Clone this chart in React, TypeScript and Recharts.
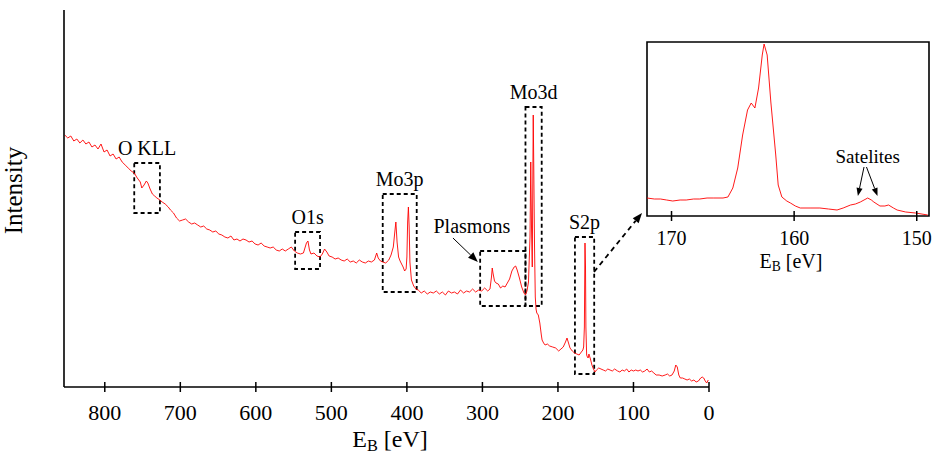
import {
  Line,
  LineChart,
  ReferenceArea,
  ReferenceDot,
  ReferenceLine,
  XAxis,
  YAxis,
} from "recharts";

const FONT = "Liberation Serif, DejaVu Serif, serif";
const RED = "#ff0000";

// survey scan: [binding energy (eV), counts (arb. units)]
const SURVEY_HIGH: [number, number][] = [
  [853, 252], [849, 249], [845, 251], [841, 246], [837, 248], [833, 244], [829, 247],
  [825, 243], [821, 245], [817, 240], [813, 242], [809, 238], [805, 243], [801, 235],
  [797, 237], [793, 231], [789, 233], [785, 228], [781, 230], [777, 225], [773, 222],
  [769, 219], [765, 216], [761, 214], [757, 209], [753, 205], [751, 199], [748, 202],
  [745, 206], [743, 204], [740, 198], [737, 193], [734, 191], [731, 189], [727, 187],
  [724, 185], [720, 183], [716, 180], [713, 177], [709, 174], [705, 169], [701, 166],
  [697, 167], [693, 168], [689, 165], [685, 163], [681, 164], [677, 162], [673, 160],
  [669, 161], [665, 158], [661, 157], [657, 155], [653, 156], [649, 153], [645, 152],
  [641, 150], [637, 149], [633, 151], [629, 147], [625, 148], [621, 146], [617, 148],
  [613, 147], [609, 145], [605, 146], [601, 143], [597, 142], [593, 144], [589, 141],
  [585, 140], [581, 139], [577, 140], [573, 137], [569, 136], [565, 138], [561, 136],
  [557, 138], [553, 140], [549, 136], [545, 134], [541, 133], [537, 134], [535, 139],
  [533, 144], [531, 146], [529, 137], [527, 133], [523, 134], [519, 131], [515, 130],
  [512, 133], [509, 138], [506, 135], [503, 131], [499, 130], [495, 128], [491, 129],
  [487, 127], [483, 126], [479, 128], [475, 125], [471, 126], [467, 124], [463, 127],
  [459, 125], [455, 124], [451, 126], [447, 125],
];

const SURVEY_MID: [number, number][] = [
  [443, 127], [440, 134], [438, 129], [435, 126], [432, 125], [428, 124], [424, 127],
  [421, 132], [418, 140], [416, 155], [414.6, 165], [413, 145], [411, 130], [409, 126],
  [407, 123], [405, 120], [403, 116], [401, 118], [400, 130], [399, 165], [398, 180],
  [397, 160], [396, 125], [394, 107], [391, 101], [388, 98], [385, 97], [381, 94],
  [377, 96], [373, 93], [369, 95], [365, 94], [361, 96], [357, 93], [353, 95],
  [349, 92], [345, 96], [341, 94], [337, 95], [333, 93], [329, 97], [325, 94],
  [321, 96], [317, 95], [313, 98], [309, 95], [305, 97], [301, 96], [297, 99],
  [293, 96], [290, 98], [288, 110], [287, 119], [286, 114], [284, 106], [282, 104],
  [279, 103], [276, 99], [273, 101], [270, 100], [267, 104], [264, 108], [261, 116],
  [258, 120], [256, 121], [254, 117], [251, 109], [248, 100], [245, 94], [243, 92],
  [241, 96], [239, 105], [237, 150], [236, 225], [235, 160], [234, 120], [233.5, 180],
  [232.7, 272], [232, 220], [231, 140], [230, 90], [229, 78], [228, 74], [226, 72],
];

const SURVEY_LOW: [number, number][] = [
  [224, 64], [222, 52], [221, 47], [219, 44], [217, 42], [214, 43], [211, 41],
  [207, 40], [203, 39], [199, 36], [196, 38], [193, 40], [190, 45], [188, 49],
  [186, 44], [184, 39], [181, 36], [178, 34], [175, 33], [172, 32], [169, 35],
  [167, 37], [166, 40], [165, 60], [164.2, 144], [163.5, 120], [163, 60], [162, 32],
  [161, 30], [160, 29], [159, 33], [157, 28], [155, 22], [153, 18], [151, 15],
  [149, 17], [146, 19], [143, 18], [140, 17], [137, 16], [134, 18], [131, 17],
  [128, 16], [125, 18], [121, 16], [118, 15], [115, 17], [112, 16], [109, 18],
  [106, 15], [103, 17], [100, 16], [97, 17], [94, 16], [91, 17], [88, 15],
  [85, 16], [82, 18], [79, 15], [76, 16], [73, 14], [70, 12], [66, 12],
  [62, 11], [58, 12], [55, 13], [52, 11], [49, 12], [46, 16], [44, 22],
  [42, 20], [40, 12], [38, 9], [35, 9], [32, 8], [29, 7], [26, 8],
  [23, 6], [20, 7], [17, 5], [14, 6], [11, 9], [9, 10], [7, 9],
  [5, 6], [3, 4], [1, 7],
];

// high resolution S2p window
const S2P_DETAIL: [number, number][] = [
  [172.0, 18], [171.4, 17], [170.9, 17], [170.4, 16], [169.9, 15], [169.3, 16],
  [168.8, 16], [168.2, 17], [167.7, 17], [167.1, 18], [166.6, 18], [165.8, 18],
  [165.4, 19], [165.0, 28], [164.6, 48], [164.2, 81], [163.8, 106], [163.5, 113],
  [163.2, 108], [162.9, 128], [162.6, 161], [162.45, 172], [162.2, 161], [161.9, 114],
  [161.5, 61], [161.3, 31], [161.0, 19], [160.6, 15], [160.3, 13], [159.9, 10],
  [159.5, 8], [158.7, 8], [157.9, 8], [157.2, 7], [156.5, 6], [156.0, 8],
  [155.4, 11], [155.0, 12], [154.6, 14], [154.3, 16], [154.0, 18], [153.7, 16],
  [153.5, 14], [153.0, 10], [152.6, 10], [152.3, 11], [151.9, 8], [151.6, 6],
  [150.9, 4], [150.1, 3], [149.1, 1],
];

const SURVEY_TICKS = [800, 700, 600, 500, 400, 300, 200, 100, 0];
const S2P_TICKS = [170, 160, 150];

// marked regions: energy span and count span of each box
const REGIONS = [
  { name: "O KLL", from: 761, to: 727, low: 174, high: 224 },
  { name: "O1s", from: 548, to: 515, low: 118, high: 155 },
  { name: "Mo3p", from: 432, to: 387, low: 95, high: 193 },
  { name: "", from: 303, to: 243, low: 81, high: 136 },
  { name: "Mo3d", from: 243, to: 221.5, low: 81, high: 280 },
  { name: "S2p", from: 177.5, to: 152, low: 13, high: 150 },
];

const surveyData = [...SURVEY_HIGH, ...SURVEY_MID, ...SURVEY_LOW].map(([eV, counts]) => ({ eV, counts }));
const detailData = S2P_DETAIL.map(([eV, counts]) => ({ eV, counts }));

function crossTick(fontSize: number, gap: number) {
  return (props: any) => {
    const { x, y, payload } = props;
    return (
      <g>
        <line x1={x} x2={x} y1={y - 5} y2={y + 5} stroke="#000" strokeWidth={1.5} />
        <text x={x} y={y + gap} textAnchor="middle" fontSize={fontSize} fontFamily={FONT} fill="#000">
          {payload.value}
        </text>
      </g>
    );
  };
}

function energyTitle(fontSize: number, gap: number, dx: number) {
  return (props: any) => {
    const vb = props.viewBox || { x: 0, y: 0, width: 0 };
    return (
      <text
        x={vb.x + vb.width / 2 + dx}
        y={vb.y + gap}
        textAnchor="middle"
        fontSize={fontSize}
        fontFamily={FONT}
        fill="#000"
      >
        E
        <tspan fontSize={fontSize * 0.68} dy={fontSize * 0.16}>B</tspan>
        <tspan dy={-fontSize * 0.16}> [eV]</tspan>
      </text>
    );
  };
}

const intensityTitle = (props: any) => {
  const vb = props.viewBox || { x: 4, y: 10, width: 60, height: 377 };
  const cx = vb.x + 18;
  const cy = vb.y + vb.height / 2 - 8;
  return (
    <text
      x={cx}
      y={cy}
      transform={`rotate(-90, ${cx}, ${cy})`}
      textAnchor="middle"
      fontSize={25}
      fontFamily={FONT}
      fill="#000"
    >
      Intensity
    </text>
  );
};

// line with a filled arrowhead at (x2, y2)
const arrow = (dash?: string, width = 1, head = 10) => (props: any) => {
  const { x1, y1, x2, y2 } = props;
  const a = Math.atan2(y2 - y1, x2 - x1);
  const bx = x2 - head * Math.cos(a);
  const by = y2 - head * Math.sin(a);
  const w = head * 0.38;
  const pts = [
    `${x2},${y2}`,
    `${bx + w * Math.sin(a)},${by - w * Math.cos(a)}`,
    `${bx - w * Math.sin(a)},${by + w * Math.cos(a)}`,
  ].join(" ");
  return (
    <g>
      <line x1={x1} y1={y1} x2={bx} y2={by} stroke="#000" strokeWidth={width} strokeDasharray={dash} />
      <polygon points={pts} fill="#000" />
    </g>
  );
};

const note = (text: string, fontSize: number) => (props: any) => (
  <text x={props.cx} y={props.cy} textAnchor="middle" fontSize={fontSize} fontFamily={FONT} fill="#000">
    {text}
  </text>
);

export default function App() {
  return (
    <div style={{ position: "relative", width: 934, height: 456, fontFamily: FONT, background: "#fff" }}>
      <style>{"body{margin:0}"}</style>
      <LineChart width={934} height={456} data={surveyData} margin={{ top: 10, right: 225, bottom: 39, left: 4 }}>
        <XAxis
          dataKey="eV"
          type="number"
          domain={[0, 854]}
          reversed
          allowDataOverflow
          ticks={SURVEY_TICKS}
          interval={0}
          tickSize={0}
          tickMargin={0}
          tick={crossTick(22, 33)}
          axisLine={{ stroke: "#000", strokeWidth: 1.6 }}
          label={energyTitle(24, 60, 3.5)}
        />
        <YAxis
          width={60}
          domain={[0, 377]}
          allowDataOverflow
          tick={false}
          tickLine={false}
          axisLine={{ stroke: "#000", strokeWidth: 1.6 }}
          label={intensityTitle}
        />
        {REGIONS.map((r) => (
          <ReferenceArea
            key={r.from}
            x1={r.from}
            x2={r.to}
            y1={r.low}
            y2={r.high}
            fill="none"
            stroke="#000"
            strokeWidth={1.8}
            strokeDasharray="4 3"
            ifOverflow="visible"
            label={
              r.name
                ? { value: r.name, position: "top", offset: 8, fontSize: 20, fontFamily: FONT, fill: "#000" }
                : undefined
            }
          />
        ))}
        <ReferenceDot x={314} y={154} ifOverflow="visible" shape={note("Plasmons", 20)} />
        <ReferenceLine
          segment={[{ x: 339, y: 149 }, { x: 306, y: 125 }]}
          ifOverflow="visible"
          shape={arrow(undefined, 1, 10)}
        />
        <ReferenceLine
          segment={[{ x: 152.3, y: 115 }, { x: 88.7, y: 174 }]}
          ifOverflow="visible"
          shape={arrow("5 4", 1.8, 10)}
        />
        <Line type="linear" dataKey="counts" stroke={RED} strokeWidth={0.9} dot={false} isAnimationActive={false} />
      </LineChart>

      <div style={{ position: "absolute", left: 600, top: 30 }}>
        <LineChart width={334} height={260} data={detailData} margin={{ top: 12, right: 5, bottom: 44, left: 47 }}>
          <XAxis
            dataKey="eV"
            type="number"
            domain={[149, 172]}
            reversed
            allowDataOverflow
            ticks={S2P_TICKS}
            interval={0}
            tickSize={0}
            tickMargin={0}
            tick={crossTick(20, 29)}
            axisLine={false}
            label={energyTitle(20, 52, 3)}
          />
          <YAxis hide domain={[0, 174]} allowDataOverflow />
          <ReferenceArea
            x1={172}
            x2={149}
            y1={0}
            y2={174}
            fill="none"
            stroke="#000"
            strokeWidth={1.6}
            ifOverflow="visible"
          />
          <ReferenceDot x={154} y={53} ifOverflow="visible" shape={note("Satelites", 19)} />
          <ReferenceLine
            segment={[{ x: 154.3, y: 49 }, { x: 154.8, y: 20 }]}
            ifOverflow="visible"
            shape={arrow(undefined, 1, 8)}
          />
          <ReferenceLine
            segment={[{ x: 154.1, y: 49 }, { x: 153.2, y: 20 }]}
            ifOverflow="visible"
            shape={arrow(undefined, 1, 8)}
          />
          <Line type="linear" dataKey="counts" stroke={RED} strokeWidth={0.9} dot={false} isAnimationActive={false} />
        </LineChart>
      </div>
    </div>
  );
}
